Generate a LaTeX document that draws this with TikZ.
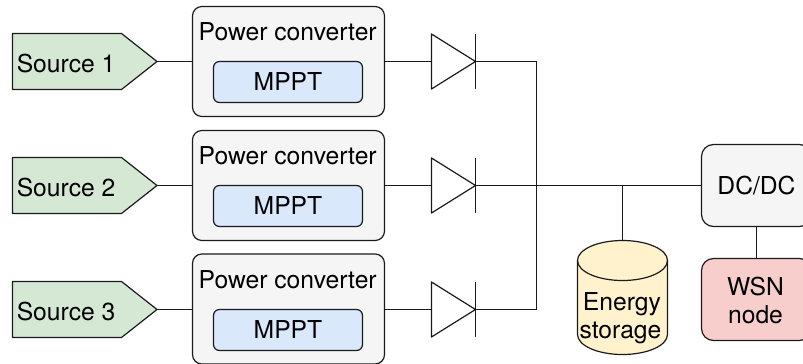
\documentclass[tikz,border=0pt]{standalone}
\usepackage{fontspec}
\setmainfont{TeX Gyre Heros}
\definecolor{srcgreen}{HTML}{D5E8D4}
\definecolor{convgray}{HTML}{F5F5F5}
\definecolor{mpptblue}{HTML}{DAE8FC}
\definecolor{storeyellow}{HTML}{FFF2CC}
\definecolor{wsnred}{HTML}{F8CECC}
\definecolor{inkline}{HTML}{1A1A1A}
\tikzset{
  x=0.75pt,y=-0.75pt,
  every node/.style={font=\fontsize{18.5}{21.5}\selectfont,text=black,inner sep=0pt},
  wire/.style={draw=inkline,line width=0.9pt},
  outl/.style={draw=inkline,line width=0.9pt,line join=round},
  conv/.style={outl,fill=convgray,rounded corners=7pt,minimum width=144pt,minimum height=82.5pt},
  mppt/.style={outl,fill=mpptblue,rounded corners=4.5pt,minimum width=111.75pt,minimum height=30.75pt},
  boxc/.style={outl,rounded corners=9pt,minimum width=82.5pt,minimum height=61.5pt},
}
\newcommand{\srcshape}[3]{%
  \path[outl,fill=srcgreen] (12.5,#2-28) -- (121.5,#2-28) -- (157,#2) -- (121.5,#2+28) -- (12.5,#2+28) -- cycle;
  \coordinate (#1) at (157,#2);
  \node[anchor=base west] (#1t) at (16.5,#2+10.5) {#3};
}
\newcommand{\diodeshape}[2]{%
  \path[outl] (431.5,#2-27.5) -- (475.5,#2) -- (431.5,#2+27.5) -- cycle;
  \path[outl] (475.5,#2-27.5) -- (475.5,#2+27.5);
  \coordinate (#1in) at (431.5,#2);
  \coordinate (#1out) at (475.5,#2);
}
\newcommand{\lowered}[2]{\raisebox{-#1}{#2}}
\begin{document}
\begin{tikzpicture}
\useasboundingbox (0,0) rectangle (803,364);
\fill[white] (0,0) rectangle (803,364);
% sources
\srcshape{s1}{61.5}{Source 1}
\srcshape{s2}{185.5}{Source 2}
\srcshape{s3}{309.5}{Source 3}
% converters
\node[conv] (c1) at (288.5,61.5) {};
\node[conv] (c2) at (288.5,185.5) {};
\node[conv] (c3) at (288.5,309) {};
\node[anchor=base] (t1) at (287.7,40) {Power converter};
\node[anchor=base] (t2) at (287.7,164) {Power converter};
\node[anchor=base] (t3) at (287.7,288) {Power converter};
\node[mppt] (m1) at (288,82) {\lowered{0.75pt}{MPPT}};
\node[mppt] (m2) at (288,206) {\lowered{0.75pt}{MPPT}};
\node[mppt] (m3) at (288,330) {\lowered{0.75pt}{MPPT}};
% diodes
\diodeshape{d1}{61.5}
\diodeshape{d2}{185.5}
\diodeshape{d3}{309.5}
\coordinate (b1) at (536.5,61.5);
\coordinate (b2) at (536.5,185.5);
\coordinate (b3) at (536.5,309.5);
\coordinate (tap) at (622.5,185.5);
% storage
\path[outl,fill=storeyellow] (577.5,260.5) arc[start angle=180,end angle=360,x radius=45,y radius=20] -- (667.5,334.5) arc[start angle=0,end angle=180,x radius=45,y radius=20] -- cycle;
\path[outl] (577.5,260.5) arc[start angle=180,end angle=0,x radius=45,y radius=20];
\coordinate (storetop) at (622.5,240.5);
\node[anchor=base] (store1) at (622,310) {Energy};
\node[anchor=base] (store2) at (620.5,338) {storage};
% right boxes
\node[boxc,fill=convgray] (dc) at (756.5,185.5) {\lowered{1.5pt}{DC/DC}};
\node[boxc,fill=wsnred] (wsn) at (756.5,299.5) {};
\node[anchor=base] (wsn1) at (755.5,295) {WSN};
\node[anchor=base] (wsn2) at (755.5,323) {node};
% connectors
\draw[wire] (s1) -- (c1.west);
\draw[wire] (s2) -- (c2.west);
\draw[wire] (s3) -- (s3 -| c3.west);
\draw[wire] (c1.east) -- (d1in);
\draw[wire] (c2.east) -- (d2in);
\draw[wire] (d3in -| c3.east) -- (d3in);
\draw[wire] (d1out) -- (b1) -- (b2);
\draw[wire] (d3out) -- (b3) -- (b2);
\draw[wire] (d2out) -- (b2) -- (dc.west);
\draw[wire] (tap) -- (storetop);
\draw[wire] (dc.south) -- (wsn.north);
\end{tikzpicture}
\end{document}
